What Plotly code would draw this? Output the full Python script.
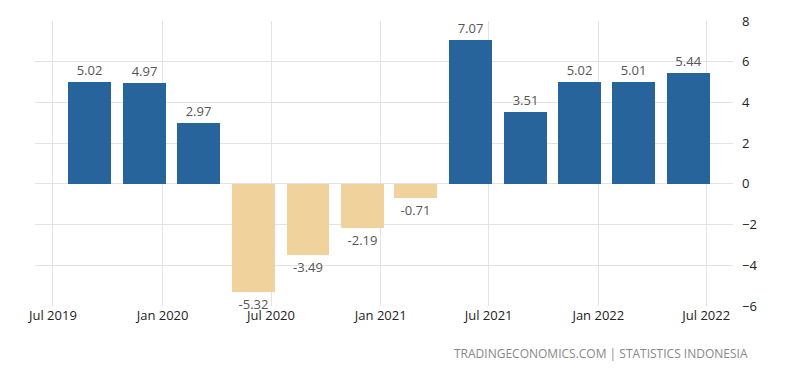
import plotly.graph_objects as go

dates = ["2019-09-01", "2019-12-01", "2020-03-01", "2020-06-01", "2020-09-01", "2020-12-01",
         "2021-03-01", "2021-06-01", "2021-09-01", "2021-12-01", "2022-03-01", "2022-06-01"]
values = [5.02, 4.97, 2.97, -5.32, -3.49, -2.19, -0.71, 7.07, 3.51, 5.02, 5.01, 5.44]
x_ticks = ["2019-07-01", "2020-01-01", "2020-07-01", "2021-01-01", "2021-07-01", "2022-01-01", "2022-07-01"]
x_tick_labels = ["Jul 2019", "Jan 2020", "Jul 2020", "Jan 2021", "Jul 2021", "Jan 2022", "Jul 2022"]
y_ticks = [-6, -4, -2, 0, 2, 4, 6, 8]

BLUE = "#27649b"
TAN = "#f0d39c"
colors = [BLUE if v >= 0 else TAN for v in values]

fig = go.Figure()
fig.add_trace(go.Bar(
    x=dates, y=values,
    marker=dict(color=colors, line=dict(width=0)),
    width=72 * 86400000,
    text=[f"{v:.2f}" for v in values],
    textposition="outside",
    cliponaxis=False,
    textfont=dict(family="Open Sans", size=13, color="#555555"),
    hoverinfo="skip",
))

# page body has an 8px margin, so the figure is sized to fill the rest of the window
fig.update_layout(
    width=792, height=365,
    margin=dict(l=27, r=67, t=13, b=67),
    paper_bgcolor="white", plot_bgcolor="white",
    showlegend=False,
    font=dict(family="Open Sans", size=13, color="#222222"),
    bargap=0,
    xaxis=dict(
        type="date",
        range=["2019-06-01", "2022-08-15"],
        tickvals=x_ticks, ticktext=x_tick_labels,
        showgrid=True, gridcolor="#e3e3e3", gridwidth=1,
        zeroline=False, showline=False, ticks="",
        automargin=False,
        tickfont=dict(family="Open Sans", size=13, color="#222222"),
    ),
    yaxis=dict(
        side="right",
        range=[-6, 8],
        tickvals=y_ticks,
        showgrid=True, gridcolor="#e3e3e3", gridwidth=1,
        zeroline=False, showline=False, ticks="",
        automargin=False,
        ticklabelstandoff=8,
        tickfont=dict(family="Open Sans", size=13, color="#222222"),
    ),
    annotations=[dict(
        text="TRADINGECONOMICS.COM | STATISTICS INDONESIA",
        xref="paper", yref="paper", x=1.0244, y=-0.165,
        xanchor="right", yanchor="middle", showarrow=False,
        font=dict(family="Open Sans", size=12, color="#888888"),
    )],
)

fig.write_html("out.html")
